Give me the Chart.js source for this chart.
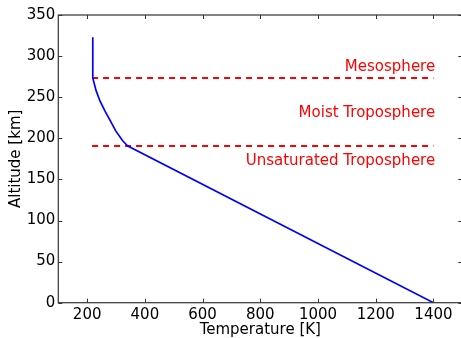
<!DOCTYPE html>
<html>
<head>
<meta charset="utf-8">
<script src="https://cdn.jsdelivr.net/npm/chart.js@4/dist/chart.umd.min.js"></script>
<style>
  html, body { margin: 0; padding: 0; background: #fff; overflow: hidden; }
  #wrap { width: 470px; height: 338px; }
</style>
</head>
<body>
<div id="wrap"><canvas id="perfilChart" width="470" height="338"></canvas></div>
<script>
// Perfil de temperatura (K) contra altitud (km)
const temperatura = [1400, 341, 323, 299, 280, 261, 244, 231, 219.5, 219.5];
const altitud = [0, 190.6, 197, 209, 221.4, 233.6, 245.7, 258, 273.4, 323];

// Limites de capas (lineas rojas discontinuas)
const limitesCapas = [190.6, 273.4];
const limiteTempIni = 217;
const limiteTempFin = 1400;

// Etiquetas de capas
const nombresCapas = ['Unsaturated Troposphere', 'Moist Troposphere', 'Mesosphere'];
const altitudNombres = [167.5, 226, 282];
const tempNombres = 1406;

const ticksX = [200, 400, 600, 800, 1000, 1200, 1400];
const ticksY = [0, 50, 100, 150, 200, 250, 300, 350];

const fuente = "'DejaVu Sans', sans-serif";

const puntos = temperatura.map((t, i) => ({ x: t, y: altitud[i] }));

const datasets = [{
    data: puntos,
    borderColor: '#0000ff',
    borderWidth: 1.7,
    pointRadius: 0,
    showLine: true,
    tension: 0
}];
limitesCapas.forEach(a => {
    datasets.push({
        data: [{ x: limiteTempIni, y: a }, { x: limiteTempFin, y: a }],
        borderColor: '#ff0000',
        borderWidth: 2,
        borderDash: [6, 5],
        pointRadius: 0,
        showLine: true
    });
});

// Marco y ticks hacia dentro en los cuatro lados, mas las etiquetas
const marcoPlugin = {
    id: 'marco',
    afterDatasetsDraw(chart) {
        const { ctx, chartArea: ca, scales } = chart;
        ctx.save();
        ctx.strokeStyle = '#333';
        ctx.lineWidth = 1.2;
        ctx.strokeRect(ca.left, ca.top, ca.right - ca.left, ca.bottom - ca.top);
        ctx.lineWidth = 1;
        ctx.beginPath();
        ticksX.forEach(v => {
            const px = Math.round(scales.x.getPixelForValue(v)) + 0.5;
            ctx.moveTo(px, ca.bottom); ctx.lineTo(px, ca.bottom - 4);
            ctx.moveTo(px, ca.top); ctx.lineTo(px, ca.top + 4);
        });
        ticksY.forEach(v => {
            const py = Math.round(scales.y.getPixelForValue(v)) + 0.5;
            ctx.moveTo(ca.left, py); ctx.lineTo(ca.left + 4, py);
            ctx.moveTo(ca.right, py); ctx.lineTo(ca.right - 4, py);
        });
        ctx.stroke();

        ctx.fillStyle = '#ff0000';
        ctx.font = '15px ' + fuente;
        ctx.textAlign = 'right';
        ctx.textBaseline = 'alphabetic';
        nombresCapas.forEach((n, i) => {
            ctx.fillText(n, scales.x.getPixelForValue(tempNombres), scales.y.getPixelForValue(altitudNombres[i]));
        });
        ctx.restore();
    }
};

const ctx = document.getElementById('perfilChart').getContext('2d');
window.perfilChartInstance = new Chart(ctx, {
    type: 'scatter',
    data: { datasets: datasets },
    plugins: [marcoPlugin],
    options: {
        responsive: false,
        animation: false,
        layout: { padding: { top: 15, right: 7.7, left: 0, bottom: 0 } },
        plugins: {
            legend: { display: false },
            tooltip: { enabled: false }
        },
        scales: {
            x: {
                type: 'linear',
                min: 100,
                max: 1500,
                afterBuildTicks: s => { s.ticks = ticksX.map(v => ({ value: v })); },
                afterFit: s => { s.height = 35.3; },
                grid: { display: false, drawTicks: false },
                border: { display: false },
                ticks: { color: '#000', font: { family: fuente, size: 15 }, padding: 3, maxRotation: 0, callback: v => String(v) },
                title: { display: true, text: 'Temperature [K]', color: '#000', font: { family: fuente, size: 15, lineHeight: 1 }, padding: { top: 0, bottom: 0 } }
            },
            y: {
                type: 'linear',
                min: 0,
                max: 350,
                afterBuildTicks: s => { s.ticks = ticksY.map(v => ({ value: v })); },
                afterFit: s => { s.width = 58.3; },
                grid: { display: false, drawTicks: false },
                border: { display: false },
                ticks: { color: '#000', font: { family: fuente, size: 15 }, padding: 3, callback: v => String(v) },
                title: { display: true, text: 'Altitude [km]', color: '#000', font: { family: fuente, size: 15 }, padding: { top: 7, bottom: 0 } }
            }
        }
    }
});
</script>
</body>
</html>
